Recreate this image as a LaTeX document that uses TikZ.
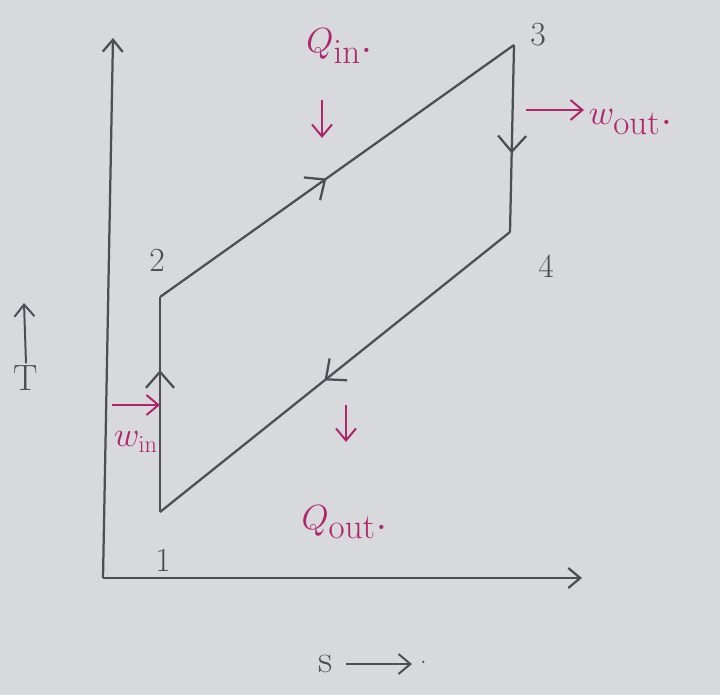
\documentclass[tikz,border=0pt]{standalone}
\usetikzlibrary{arrows.meta,positioning,calc,decorations.markings}
\definecolor{paper}{HTML}{D7D9DC}
\definecolor{pencil}{HTML}{4A4E55}
\definecolor{ink}{HTML}{B0246C}

\begin{document}
\begin{tikzpicture}[x=0.025cm,y=-0.025cm,
 >={Straight Barb[length=3mm,width=5mm]},
 axis/.style={pencil,line width=1.6pt,->},
 process/.style={pencil,line width=1.6pt},
 flow/.style={ink,line width=1.4pt,->},
 midarrow/.style={postaction={decorate},decoration={markings,
  mark=at position #1 with {\arrow{Straight Barb[length=4mm,width=7mm,line width=1.6pt]}}}},
 state/.style={text=pencil,font=\fontsize{24}{28}\selectfont},
 qty/.style={text=ink,font=\fontsize{36}{40}\selectfont}]
\fill[paper] (0,0) rectangle (720,695);
\useasboundingbox (0,0) rectangle (720,695);
% axes
\coordinate (O) at (103,578);
\coordinate (Tend) at (113,38);
\coordinate (Send) at (582,578);
\draw[axis] (O) -- (Tend);
\draw[axis] (O) -- (Send);
\node[text=pencil,font=\fontsize{26}{30}\selectfont] (tlab) at (26,378) {T};
\coordinate (tup) at (24,303);
\draw[axis,line width=1.4pt] ([yshift=-2pt]tlab.north) -- (tup);
\node[text=pencil,font=\fontsize{28}{32}\selectfont] (slab) at (326,664) {s};
\coordinate (sright) at (412,662);
\draw[axis,line width=1.4pt] ([xshift=6pt]slab.east) -- (slab.east -| sright);
\node[text=pencil,font=\fontsize{20}{24}\selectfont,right=2pt of sright] (sdot) {.};
% states
\coordinate (s1) at (160,512);
\coordinate (s2) at (160,297);
\coordinate (s3) at (514,45);
\coordinate (s4) at (510,232);
\node[state] (n1) at (163,560) {1};
\node[state] (n2) at (157,260) {2};
\node[state] (n3) at (538,35) {3};
\node[state] (n4) at (546,266) {4};
% cycle
\draw[process,midarrow=0.66] (s1) -- (s2);
\draw[process,midarrow=0.47] (s2) -- (s3);
\draw[process,midarrow=0.58] (s3) -- (s4);
\draw[process,midarrow=0.53] (s4) -- (s1);
% heat and work
\node[qty] (qin) at (340,46) {$Q_{\mathrm{in}}$.};
\coordinate (qinto) at (322,138);
\draw[flow] (qinto |- 0,100) -- (qinto);
\coordinate (woutfrom) at (526,110);
\node[qty,anchor=west] (wout) at (584,122) {$w_{\mathrm{out}}$.};
\draw[flow] (woutfrom) -- (woutfrom -| wout.west);
\coordinate (winto) at (160,405);
\node[qty,font=\fontsize{24}{28}\selectfont] (win) at (136,442) {$w_{\mathrm{in}}$};
\draw[flow] (112,405) -- (winto);
\node[qty] (qout) at (345,522) {$Q_{\mathrm{out}}$.};
\coordinate (qoutto) at (346,442);
\draw[flow] (qoutto |- 0,405) -- (qoutto);
\end{tikzpicture}
\end{document}
